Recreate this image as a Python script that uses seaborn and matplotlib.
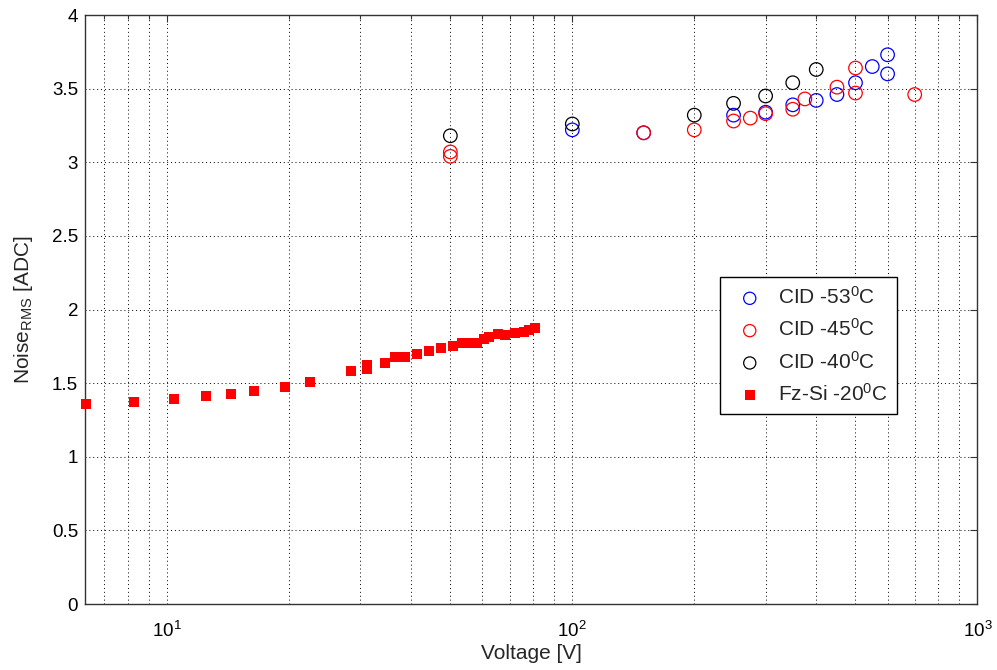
import numpy as np
import pandas as pd
import matplotlib
matplotlib.use("Agg")
import matplotlib.pyplot as plt
import seaborn as sns

# ---- data ----
v_53 = [100, 150, 250, 300, 350, 400, 450, 500, 550, 600, 600]
n_53 = [3.22, 3.20, 3.32, 3.34, 3.39, 3.42, 3.46, 3.54, 3.65, 3.73, 3.60]

v_45 = [50, 50, 150, 200, 250, 275, 300, 350, 375, 450, 500, 500, 700]
n_45 = [3.07, 3.04, 3.20, 3.22, 3.28, 3.30, 3.33, 3.36, 3.43, 3.51, 3.64, 3.47, 3.46]

v_40 = [50, 100, 200, 250, 300, 350, 400]
n_40 = [3.18, 3.26, 3.32, 3.40, 3.45, 3.54, 3.63]

v_fz = [6.3, 8.3, 10.4, 12.5, 14.4, 16.4, 19.5, 22.5, 28.4, 31.2, 31.2, 34.4,
        36.4, 38.7, 41.4, 44.4, 47.5, 50.8, 53.4, 55.8, 58.2, 60.4, 62.3, 65.5,
        68.3, 72.3, 75.8, 78.0, 81.0]
n_fz = [1.36, 1.375, 1.39, 1.413, 1.426, 1.446, 1.474, 1.508, 1.584, 1.598, 1.624, 1.639,
        1.68, 1.68, 1.696, 1.718, 1.741, 1.752, 1.775, 1.775, 1.775, 1.797, 1.81, 1.834,
        1.827, 1.843, 1.85, 1.86, 1.872]

labels = ["CID -53$^0$C", "CID -45$^0$C", "CID -40$^0$C", "Fz-Si -20$^0$C"]
y_ticks = [0, 0.5, 1, 1.5, 2, 2.5, 3, 3.5, 4]

sns.set_style("white")
plt.rcParams["font.family"] = ["Liberation Sans", "DejaVu Sans"]
plt.rcParams["mathtext.fontset"] = "custom"
plt.rcParams["mathtext.rm"] = "Liberation Sans"
plt.rcParams["mathtext.it"] = "Liberation Sans:italic"
plt.rcParams["mathtext.bf"] = "Liberation Sans:bold"

fig = plt.figure(figsize=(9.97, 6.70), dpi=100)
ax = fig.add_axes([0.0853, 0.0985, 0.8951, 0.8791])

df53 = pd.DataFrame({"V": v_53, "N": n_53})
df45 = pd.DataFrame({"V": v_45, "N": n_45})
df40 = pd.DataFrame({"V": v_40, "N": n_40})
dffz = pd.DataFrame({"V": v_fz, "N": n_fz})

circ = dict(marker="o", s=95, facecolor="none", linewidth=0.9, clip_on=False, zorder=3)
sns.scatterplot(data=df53, x="V", y="N", ax=ax, color="#0000ff", edgecolor="#0000ff",
                label=labels[0], **circ)
sns.scatterplot(data=df45, x="V", y="N", ax=ax, color="#ff0000", edgecolor="#ff0000",
                label=labels[1], **circ)
sns.scatterplot(data=df40, x="V", y="N", ax=ax, color="#000000", edgecolor="#000000",
                label=labels[2], **circ)
sns.scatterplot(data=dffz, x="V", y="N", ax=ax, color="#ff0000", edgecolor="#ff0000",
                marker="s", s=60, linewidth=0, clip_on=False, zorder=3, label=labels[3])

ax.set_xscale("log")
ax.set_xlim(6.27, 1000)
ax.set_ylim(0, 4)
ax.set_yticks(y_ticks)
ax.set_yticklabels([f"{t:g}" for t in y_ticks])

ax.grid(True, which="major", axis="both", linestyle=(0, (1, 3)), color="black", linewidth=0.7)
ax.grid(True, which="minor", axis="x", linestyle=(0, (1, 3)), color="black", linewidth=0.7)
ax.set_axisbelow(True)

ax.tick_params(which="both", direction="in", top=True, right=True, colors="#333333",
               labelcolor="black")
ax.tick_params(which="major", length=5, width=0.8, labelsize=13.5)
ax.tick_params(which="minor", length=3, width=0.8)
ax.tick_params(axis="x", pad=12)
ax.tick_params(axis="y", pad=5)
for sp in ax.spines.values():
    sp.set_color("#333333")
    sp.set_linewidth(1.0)

ax.set_xlabel("Voltage [V]", fontsize=15, labelpad=2)
ax.set_ylabel("Noise$_{\\mathrm{RMS}}$ [ADC]", fontsize=15, labelpad=12)

leg = ax.legend(loc="upper left", bbox_to_anchor=(0.711, 0.556), fontsize=15,
                frameon=True, fancybox=False, edgecolor="black", framealpha=1,
                borderpad=0.45, labelspacing=0.5, handletextpad=0.35, markerscale=0.9,
                borderaxespad=0)
leg.get_frame().set_linewidth(1.0)

fig.savefig("out.png", dpi=100)
